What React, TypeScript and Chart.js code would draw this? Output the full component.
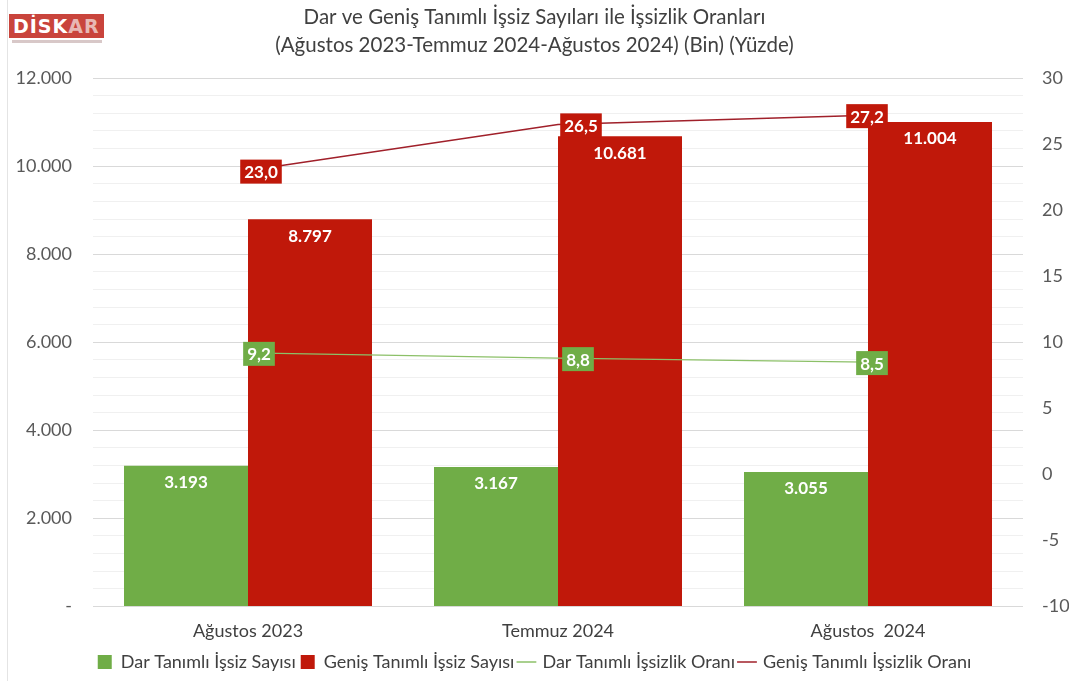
import React, { useEffect, useRef } from "react";
import { Chart, registerables } from "chart.js";

Chart.register(...registerables);

const categories = ["Ağustos 2023", "Temmuz 2024", "Ağustos  2024"];
const darSayisi = [3193, 3167, 3055];
const genisSayisi = [8797, 10681, 11004];
const darOrani = [9.2, 8.8, 8.5];
const genisOrani = [23.0, 26.5, 27.2];
const seriesNames = [
  "Dar Tanımlı İşsiz Sayısı",
  "Geniş Tanımlı İşsiz Sayısı",
  "Dar Tanımlı İşsizlik Oranı",
  "Geniş Tanımlı İşsizlik Oranı",
];
const titleLines = [
  "Dar ve Geniş Tanımlı İşsiz Sayıları ile İşsizlik Oranları",
  "(Ağustos 2023-Temmuz 2024-Ağustos 2024) (Bin) (Yüzde)",
];

const GREEN = "#70AD47";
const RED = "#C0180A";
const FONT = "Lato, 'Open Sans', sans-serif";

function fmtThousands(v: number): string {
  return Math.round(v)
    .toString()
    .replace(/\B(?=(\d{3})+(?!\d))/g, ".");
}
function fmtDec(v: number): string {
  return v.toFixed(1).replace(".", ",");
}

// horizontal nudges of the rate labels (dataset index -> per point)
const labelOffsets: Record<number, number[]> = {
  0: [11, 20, 4],
  1: [13, 23, -1],
};

const valueLabelsPlugin = {
  id: "valueLabels",
  afterDatasetsDraw(chart: any) {
    const ctx = chart.ctx;
    ctx.save();
    chart.data.datasets.forEach((ds: any, di: number) => {
      const meta = chart.getDatasetMeta(di);
      if (meta.hidden) return;
      meta.data.forEach((el: any, i: number) => {
        const v = ds.data[i];
        if (ds.type === "bar") {
          ctx.font = `bold 17px ${FONT}`;
          ctx.fillStyle = "#ffffff";
          ctx.textAlign = "center";
          ctx.textBaseline = "middle";
          ctx.fillText(fmtThousands(v), el.x, el.y + 17);
        } else {
          const txt = fmtDec(v);
          ctx.font = `bold 17px ${FONT}`;
          const w = ctx.measureText(txt).width + 8;
          const h = 24;
          const cx = el.x + (labelOffsets[di] ? labelOffsets[di][i] : 0);
          const cy = el.y + 1;
          ctx.fillStyle = di === 0 ? GREEN : RED;
          ctx.fillRect(cx - w / 2, cy - h / 2, w, h);
          ctx.fillStyle = "#ffffff";
          ctx.textAlign = "center";
          ctx.textBaseline = "middle";
          ctx.fillText(txt, cx, cy + 1);
        }
      });
    });
    ctx.restore();
  },
};

export default function App() {
  const canvasRef = useRef<HTMLCanvasElement | null>(null);

  useEffect(() => {
    if (!canvasRef.current) return;
    const chart = new Chart(canvasRef.current, {
      type: "bar",
      data: {
        labels: categories,
        datasets: [
          {
            type: "line",
            label: seriesNames[2],
            data: darOrani,
            yAxisID: "y1",
            borderColor: "#8CC068",
            borderWidth: 1.2,
            pointRadius: 0,
            order: 0,
          } as any,
          {
            type: "line",
            label: seriesNames[3],
            data: genisOrani,
            yAxisID: "y1",
            borderColor: "#A0202A",
            borderWidth: 1.5,
            pointRadius: 0,
            order: 0,
          } as any,
          {
            type: "bar",
            label: seriesNames[0],
            data: darSayisi,
            yAxisID: "y",
            backgroundColor: GREEN,
            categoryPercentage: 0.8,
            barPercentage: 1.0,
            order: 1,
          },
          {
            type: "bar",
            label: seriesNames[1],
            data: genisSayisi,
            yAxisID: "y",
            backgroundColor: RED,
            categoryPercentage: 0.8,
            barPercentage: 1.0,
            order: 1,
          },
        ],
      },
      options: {
        animation: false,
        responsive: false,
        maintainAspectRatio: false,
        layout: { padding: { top: 3, bottom: 0, left: 0, right: 0 } },
        plugins: {
          title: {
            display: true,
            text: titleLines,
            color: "#404040",
            font: { family: FONT, size: 20.5, weight: "normal", lineHeight: 1.37 },
            padding: { top: 0, bottom: 19 },
          },
          legend: {
            position: "bottom",
            labels: {
              color: "#404040",
              font: { family: FONT, size: 18 },
              usePointStyle: true,
              boxWidth: 14,
              boxHeight: 14,
              padding: 5,
              generateLabels(chart: any) {
                const order = [2, 3, 0, 1];
                return order.map((di) => {
                  const ds = chart.data.datasets[di];
                  const isLine = ds.type === "line";
                  return {
                    text: ds.label,
                    fillStyle: isLine ? ds.borderColor : ds.backgroundColor,
                    strokeStyle: isLine ? ds.borderColor : ds.backgroundColor,
                    lineWidth: isLine ? 1.5 : 0,
                    pointStyle: isLine ? "line" : "rect",
                    datasetIndex: di,
                    hidden: false,
                    fontColor: "#404040",
                  };
                });
              },
            },
          },
          tooltip: { enabled: false },
        },
        scales: {
          x: {
            grid: { display: false },
            border: { display: false },
            ticks: {
              color: "#404040",
              font: { family: FONT, size: 18 },
              padding: 6,
            },
          },
          y: {
            position: "left",
            min: 0,
            max: 12000,
            border: { display: false },
            ticks: {
              stepSize: 400,
              autoSkip: false,
              color: "#595959",
              font: { family: FONT, size: 18 },
              padding: 21,
              callback: (v: any) => {
                const n = Number(v);
                if (n % 2000 !== 0) return "";
                return n === 0 ? "-" : fmtThousands(n);
              },
            },
            grid: {
              drawTicks: false,
              color: (c: any) =>
                c.tick && c.tick.value % 2000 === 0 ? "#d9d9d9" : "#f0f0f0",
              lineWidth: 1,
            },
            afterFit(scale: any) {
              scale.width = 93;
            },
          },
          y1: {
            position: "right",
            min: -10,
            max: 30,
            border: { display: false },
            grid: { display: false },
            ticks: {
              stepSize: 5,
              color: "#595959",
              font: { family: FONT, size: 18 },
              padding: 11,
            },
            afterFit(scale: any) {
              scale.width = 46;
            },
          },
        },
      },
      plugins: [valueLabelsPlugin],
    });
    return () => chart.destroy();
  }, []);

  return (
    <div
      style={{
        position: "fixed",
        left: 0,
        top: 0,
        width: 1069,
        height: 681,
        background: "#ffffff",
      }}
    >
      <div
        style={{
          position: "absolute",
          left: 7,
          top: 0,
          width: 1,
          height: 681,
          background: "#e4e4e4",
        }}
      />
      <div
        style={{
          position: "absolute",
          left: 9,
          top: 14,
          width: 95,
          height: 24,
          background: "#C9443C",
          color: "#ffffff",
          fontFamily: "'DejaVu Sans', sans-serif",
          fontWeight: "bold",
          fontSize: 19,
          lineHeight: "24px",
          letterSpacing: 1,
          paddingLeft: 4,
          boxSizing: "border-box",
        }}
      >
        DİSK<span style={{ color: "#e8b8b4" }}>AR</span>
      </div>
      <div
        style={{
          position: "absolute",
          left: 12,
          top: 40,
          width: 90,
          height: 3,
          background: "#d8c8c8",
        }}
      />
      <canvas
        ref={canvasRef}
        width={1069}
        height={681}
        style={{ position: "absolute", left: 0, top: 0, width: 1069, height: 681 }}
      />
    </div>
  );
}
